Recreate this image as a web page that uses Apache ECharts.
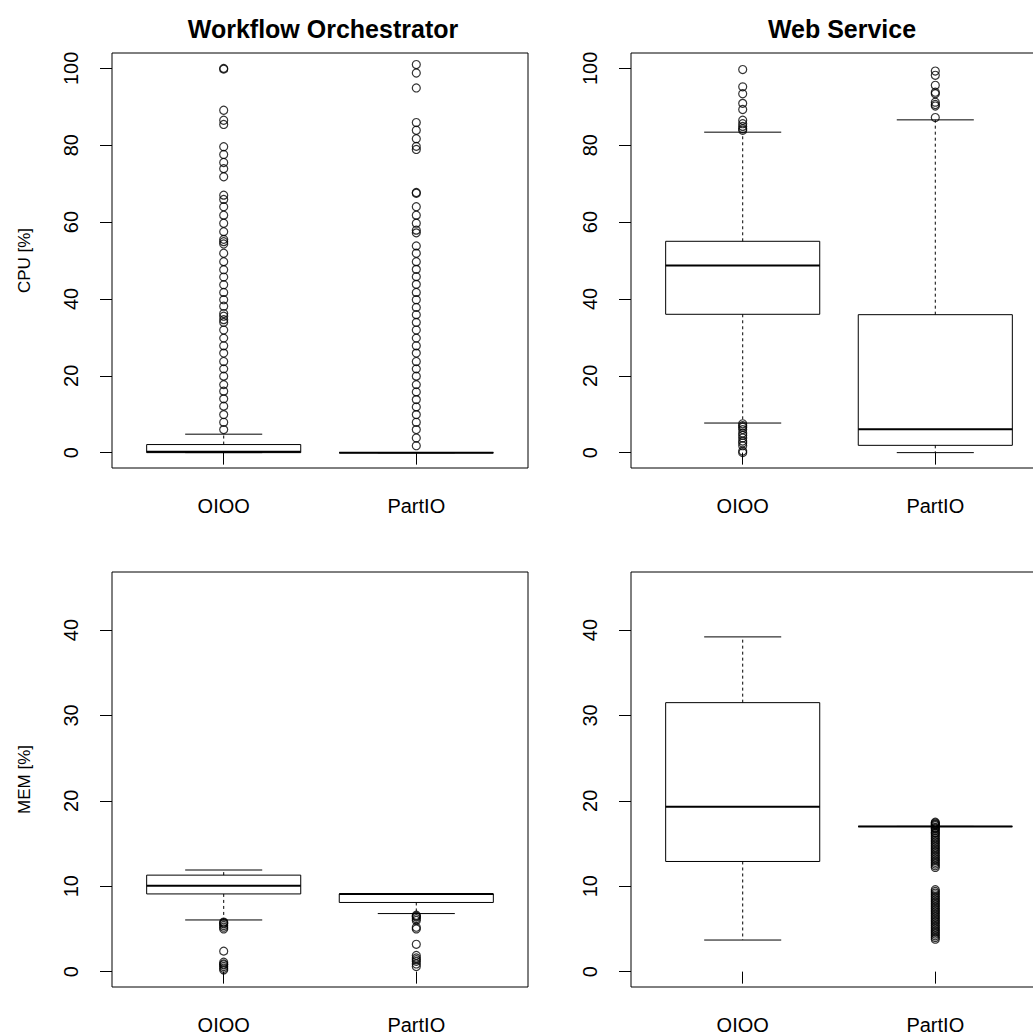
<!DOCTYPE html>
<html><head><meta charset="utf-8">
<script src="https://cdn.jsdelivr.net/npm/echarts@6/dist/echarts.min.js"></script>
<style>html,body{margin:0;padding:0;background:#fff}#c{width:1033px;height:1035px}</style>
</head><body><div id="c"></div>
<script>
// ---------- data ----------
const categories = ['OIOO', 'PartIO'];
const panelTitles = ['Workflow Orchestrator', 'Web Service'];
const rowLabels = ['CPU [%]', 'MEM [%]'];
const cpuTicks = [0, 20, 40, 60, 80, 100];
const memTicks = [0, 10, 20, 30, 40];

// box stats per category: [lower whisker, Q1, median, Q3, upper whisker]
const woCpuBoxes = [[0, 0, 0.2, 2.1, 4.8], [0, 0, 0, 0, 0]];
const wsCpuBoxes = [[7.7, 36.0, 48.7, 55.0, 83.4], [0, 1.9, 6.1, 35.9, 86.6]];
const woMemBoxes = [[6.05, 9.1, 10.05, 11.3, 11.9], [6.8, 8.1, 9.1, 9.1, 9.1]];
const wsMemBoxes = [[3.7, 12.9, 19.3, 31.5, 39.2], [17.0, 17.0, 17.0, 17.0, 17.0]];

// outliers
const woCpuOutOIOO = [100, 99.8, 89.1, 86.5, 85.4, 79.6, 77.6, 75.5, 73.9, 71.8, 67.0, 65.9, 64.0, 61.8, 59.7, 57.5,
  55.5, 54.9, 54.3, 51.9, 49.7, 47.6, 45.7, 43.7, 41.7, 39.8, 38.1, 36.2, 35.5, 34.6, 33.9, 31.9, 29.8, 27.8,
  25.9, 23.7, 21.8, 19.9, 17.7, 16.0, 14.0, 12.1, 9.9, 7.9, 6.0];
const woCpuOutPartIO = [101.0, 98.8, 94.9, 85.9, 83.9, 81.7, 79.7, 78.9, 67.7, 67.5, 64.0, 61.8, 59.7, 57.9, 57.2,
  53.8, 51.9, 49.7, 47.7, 45.8, 43.8, 41.7, 39.8, 37.8, 35.9, 33.9, 31.9, 29.8, 27.8, 25.9, 23.7, 21.8, 19.9,
  17.7, 15.8, 13.8, 11.9, 9.9, 7.9, 6.0, 3.8, 1.8];
const wsCpuOutOIOO = [99.7, 95.2, 93.4, 90.9, 89.3, 86.5, 85.6, 84.9, 84.3, 83.9,
  7.5, 7.0, 6.6, 6.0, 5.1, 4.5, 3.8, 3.0, 2.5, 1.8, 0.4, 0];
const wsCpuOutPartIO = [99.3, 98.2, 95.6, 93.8, 93.4, 91.2, 90.6, 90.2, 87.2];
const woMemOutOIOO = [5.8, 5.7, 5.6, 5.4, 5.2, 5.0, 2.4, 1.1, 0.9, 0.8, 0.6, 0.4, 0.2];
const woMemOutPartIO = [6.6, 6.5, 6.4, 6.2, 6.0, 5.2, 5.0, 3.2, 1.9, 1.6, 1.4, 1.2, 0.9, 0.6];
const wsMemOutOIOO = [];
const wsMemOutPartIO = [17.5, 17.4, 17.3, 17.2, 17.1, 16.9, 16.8, 16.7, 16.5, 16.3, 16.2, 16.0, 15.8, 15.6, 15.4,
  15.2, 15.0, 14.8, 14.6, 14.4, 14.2, 14.0, 13.8, 13.6, 13.4, 13.2, 13.0, 12.8, 12.6, 12.4, 12.2,
  9.6, 9.4, 9.2, 9.0, 8.8, 8.6, 8.4, 8.2, 8.0, 7.8, 7.6, 7.4, 7.2, 7.0, 6.8, 6.6, 6.4, 6.2, 6.0, 5.8, 5.6,
  5.4, 5.2, 5.0, 4.8, 4.6, 4.4, 4.2, 4.0, 3.8];

// ---------- chart ----------
const FONT = 'Liberation Sans, Arial, Helvetica, sans-serif';
const panels = [
  { left: 112, top: 53, boxes: woCpuBoxes, outs: [woCpuOutOIOO, woCpuOutPartIO], ymin: -4, ymax: 104, ticks: cpuTicks, ylab: rowLabels[0], title: panelTitles[0] },
  { left: 631, top: 53, boxes: wsCpuBoxes, outs: [wsCpuOutOIOO, wsCpuOutPartIO], ymin: -4, ymax: 104, ticks: cpuTicks, ylab: null, title: panelTitles[1] },
  { left: 112, top: 572, boxes: woMemBoxes, outs: [woMemOutOIOO, woMemOutPartIO], ymin: -1.8, ymax: 46.8, ticks: memTicks, ylab: rowLabels[1], title: null },
  { left: 631, top: 572, boxes: wsMemBoxes, outs: [wsMemOutOIOO, wsMemOutPartIO], ymin: -1.8, ymax: 46.8, ticks: memTicks, ylab: null, title: null }
];
const PW = 416, PH = 415;

function renderBox(params, api) {
  const x = api.value(0), lo = api.value(1), q1 = api.value(2), med = api.value(3), q3 = api.value(4), hi = api.value(5);
  const c = (a, b) => api.coord([a, b]);
  const ln = (p1, p2, w, dash) => ({ type: 'line', shape: { x1: p1[0], y1: p1[1], x2: p2[0], y2: p2[1] },
    style: { stroke: '#000', lineWidth: w, lineDash: dash || null, fill: null } });
  const tl = c(x - 0.4, q3), br = c(x + 0.4, q1);
  return { type: 'group', children: [
    ln(c(x, q3), c(x, hi), 1, [3, 3]),
    ln(c(x, q1), c(x, lo), 1, [3, 3]),
    ln(c(x - 0.2, hi), c(x + 0.2, hi), 1),
    ln(c(x - 0.2, lo), c(x + 0.2, lo), 1),
    { type: 'rect', shape: { x: tl[0], y: tl[1], width: br[0] - tl[0], height: br[1] - tl[1] },
      style: { fill: null, stroke: '#000', lineWidth: 1 } },
    ln(c(x - 0.4, med), c(x + 0.4, med), 2)
  ] };
}

const grid = [], xAxis = [], yAxis = [], series = [], title = [];
panels.forEach((p, i) => {
  grid.push({ left: p.left, top: p.top, width: PW, height: PH, show: true, borderColor: '#000', borderWidth: 1,
    backgroundColor: 'transparent', outerBoundsMode: 'none', containLabel: false });
  xAxis.push({ gridIndex: i, type: 'value', min: 0.42, max: 2.58, splitLine: { show: false }, axisLine: { show: false },
    axisTick: { show: true, customValues: [1, 2], length: 12, lineStyle: { color: '#000', width: 1 } },
    axisLabel: { customValues: [1, 2], formatter: v => categories[Math.round(v) - 1], fontSize: 20, lineHeight: 20,
      margin: 28, color: '#000', fontFamily: FONT } });
  yAxis.push({ gridIndex: i, type: 'value', min: p.ymin, max: p.ymax, splitLine: { show: false }, axisLine: { show: false },
    axisTick: { show: true, customValues: p.ticks, length: 12, lineStyle: { color: '#000', width: 1 } },
    axisLabel: { customValues: p.ticks, rotate: 90, fontSize: 20, margin: 31, color: '#000', fontFamily: FONT },
    name: p.ylab || '', nameLocation: 'middle', nameRotate: 90, nameGap: 79,
    nameTextStyle: { fontSize: 17, color: '#000', fontFamily: FONT } });
  series.push({ type: 'custom', xAxisIndex: i, yAxisIndex: i, renderItem: renderBox, clip: false,
    encode: { x: 0, y: [1, 2, 3, 4, 5] },
    data: p.boxes.map((b, k) => [k + 1].concat(b)) });
  const pts = [];
  p.outs.forEach((arr, k) => arr.forEach(v => pts.push([k + 1, v])));
  series.push({ type: 'scatter', xAxisIndex: i, yAxisIndex: i, symbol: 'circle', symbolSize: 8, data: pts,
    itemStyle: { color: 'rgba(0,0,0,0)', borderColor: '#000', borderWidth: 1.2 }, z: 3 });
  if (p.title) title.push({ text: p.title, left: p.left + PW / 2 - 2, top: 11, textAlign: 'center',
    textStyle: { fontSize: 25, fontWeight: 'bold', color: '#000', fontFamily: FONT } });
});

const chart = echarts.init(document.getElementById('c'), null, { renderer: 'svg' });
chart.setOption({ animation: false, backgroundColor: '#fff', title, grid, xAxis, yAxis, series });
</script>
</body></html>
